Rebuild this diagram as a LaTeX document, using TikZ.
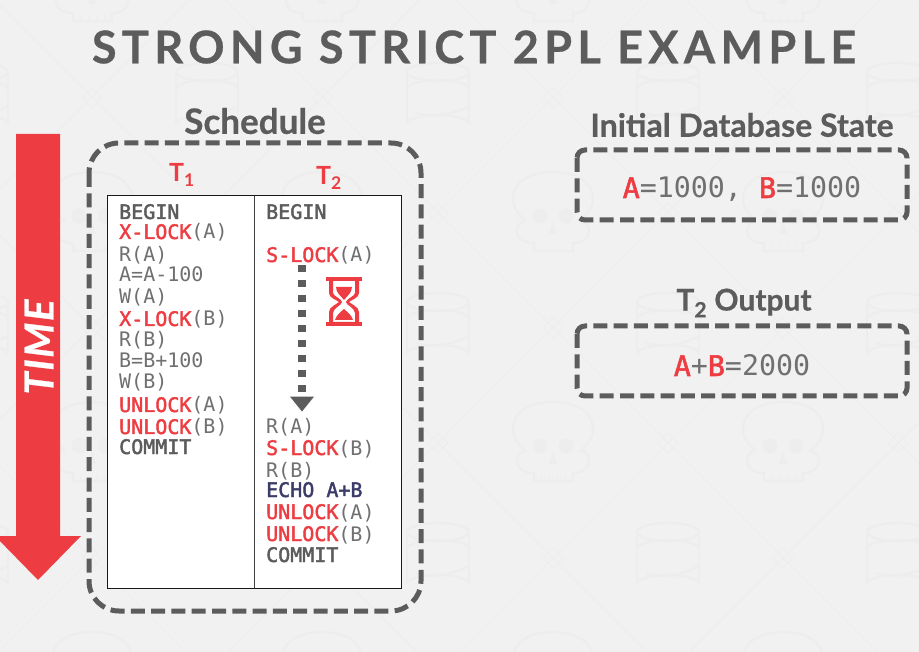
\documentclass[tikz,border=0pt]{standalone}
\usepackage{fontspec}
\setmainfont{Lato}
\setmonofont{DejaVu Sans Mono}
\usetikzlibrary{positioning, arrows.meta, calc}
\definecolor{cBack}{RGB}{241,241,241}
\definecolor{cMark}{RGB}{237,237,237}
\definecolor{cRed}{RGB}{238,61,66}
\definecolor{cGrey}{RGB}{92,92,92}
\definecolor{cThin}{RGB}{112,112,112}
\definecolor{cNavy}{RGB}{60,60,105}
\newcommand{\lk}[1]{{\addfontfeature{FakeBold=2}\color{cRed}#1}}
\newcommand{\kw}[1]{{\addfontfeature{FakeBold=2}\color{cGrey}#1}}
\tikzset{
    titletext/.style={font=\bfseries\fontsize{45}{50}\selectfont\addfontfeature{LetterSpace=11.9,FakeBold=0.6}, text=cGrey, inner sep=0pt},
    heading/.style={font=\bfseries\fontsize{32}{34}\selectfont\addfontfeature{FakeBold=0.6}, text=cGrey, inner sep=0pt},
    dashbox/.style={draw=cGrey, line width=5pt, dash pattern=on 14pt off 6.3pt},
    stmt/.style={font=\ttfamily\fontsize{20}{22}\selectfont, text=cThin, anchor=base west, inner sep=0pt},
    valuetext/.style={font=\ttfamily\fontsize{28.3}{30}\selectfont, text=cThin, anchor=base, inner sep=0pt},
    txnlabel/.style={font=\bfseries\fontsize{25}{30}\selectfont, text=cRed, anchor=base west, inner sep=0pt},
    waitflow/.style={draw=cGrey, line width=7.5pt, dash pattern=on 7.5pt off 7.5pt,
        -{Triangle[length=15pt, width=23pt]}},
    bgmark/.style={draw=cMark, line width=2.2pt},
    bgline/.style={draw=cMark, line width=1pt},
}
\begin{document}
\begin{tikzpicture}[x=1pt, y=-1pt]
\useasboundingbox (0,0) rectangle (919,652);
\fill[cBack] (0,0) rectangle (919,652);

% faint wallpaper: diagonals, small diamonds, databases, skulls
\begin{scope}
\clip (0,0) rectangle (919,652);
\foreach \i in {-5,...,4} {
    \draw[bgline] (-120+230.5*\i,-115) -- ++(1000,1000);
    \draw[bgline] (1226+230.5*\i,-115) -- ++(-1000,1000);
}
\foreach \cx in {-23,207,438,668,898} {
    \foreach \cy in {98,328,558} {
        \begin{scope}[shift={(\cx,\cy)}]
            \draw[bgmark] (-31,-26) -- (-31,26);
            \draw[bgmark] (31,-26) -- (31,26);
            \draw[bgmark] (0,-26) ellipse[x radius=31, y radius=9];
            \draw[bgmark] (-31,-9) arc[start angle=180, end angle=360, x radius=31, y radius=9];
            \draw[bgmark] (-31,26) arc[start angle=180, end angle=360, x radius=31, y radius=9];
            \draw[bgmark] (-22,15) .. controls (-10,19) and (10,19) .. (31,8);
        \end{scope}
        \draw[bgline] (\cx-115,\cy) ++(-10,0) -- ++(10,-10) -- ++(10,10) -- ++(-10,10) -- cycle;
        \draw[bgline] (\cx,\cy-115) ++(-10,0) -- ++(10,-10) -- ++(10,10) -- ++(-10,10) -- cycle;
    }
}
\foreach \cx in {92,322,553,783} {
    \foreach \cy in {-17,213,443,673} {
        \begin{scope}[shift={(\cx,\cy)}]
            \draw[bgmark] (-27,8) .. controls (-36,0) and (-40,-6) .. (-40,-14)
                .. controls (-40,-32) and (-22,-41) .. (0,-41)
                .. controls (22,-41) and (40,-32) .. (40,-14)
                .. controls (40,-6) and (36,0) .. (27,8)
                .. controls (34,8) and (36,14) .. (36,18) .. controls (36,26) and (28,30) .. (20,30)
                -- (20,38) -- (-19,38) -- (-19,30)
                .. controls (-28,30) and (-36,26) .. (-36,18) .. controls (-36,14) and (-34,8) .. (-27,8);
            \fill[cMark] (-13,3) circle[radius=7.5] (13,3) circle[radius=7.5] (0,8) -- (-4,21) -- (4,21) -- cycle;
            \draw[bgline] (-12,32) -- (-12,38) (-4,32) -- (-4,38) (4,32) -- (4,38) (12,32) -- (12,38);
        \end{scope}
    }
}
\end{scope}

% title
\node[titletext] (title) at (474,47) {STRONG STRICT 2PL EXAMPLE};

% time arrow
\begin{scope}
    \clip (0,0) rectangle (919,652);
    \fill[cRed] (16,134) -- (60,134) -- (60,536) -- (81,536) -- (38,580) -- (-5,536) -- (16,536) -- cycle;
\end{scope}
\node[font=\bfseries\itshape\fontsize{40}{42}\selectfont\addfontfeature{LetterSpace=4,FakeBold=0.8}, text=white,
      rotate=90, inner sep=0pt] (time) at (39,347) {TIME};

% schedule
\node[heading, font=\bfseries\fontsize{35}{36}\selectfont\addfontfeature{FakeBold=0.6}] (schedule) at (255,121) {Schedule};
\draw[dashbox, rounded corners=30pt] (89,143) rectangle (421,611);
\node[txnlabel] (t1) at (169,182) {T\textsubscript{1}};
\node[txnlabel] (t2) at (316,185) {T\textsubscript{2}};
\draw[black!90, line width=1pt, fill=white] (107,196) rectangle (401,588);
\draw[black!75, line width=1pt] (254,196) -- (254,588);

% T1 column
\foreach \y/\txt in {
    219/\kw{BEGIN}, 239/\lk{X-LOCK}(A), 262/R(A), 282/A=A-100, 304/W(A),
    326/\lk{X-LOCK}(B), 347/R(B), 368/B=B+100, 389/W(B),
    412/\lk{UNLOCK}(A), 434/\lk{UNLOCK}(B), 454/\kw{COMMIT}} {
    \node[stmt] at (119,\y) {\txt};
}

% T2 column
\node[stmt] (tbegin) at (266,219) {\kw{BEGIN}};
\node[stmt] (tlock) at (266,262) {\lk{S-LOCK}(A)};
\node[stmt] (tread) at (266,434) {R(A)};
\foreach \y/\txt in {
    455/\lk{S-LOCK}(B), 477/R(B), 497/{{\addfontfeature{FakeBold=2}\color{cNavy}ECHO A+B}},
    519/\lk{UNLOCK}(A), 541/\lk{UNLOCK}(B), 562/\kw{COMMIT}} {
    \node[stmt] at (266,\y) {\txt};
}

% waiting for the lock
\coordinate (waitx) at (302,0);
\draw[waitflow] (tlock.south -| waitx) -- ($(tread.north -| waitx)+(0,-7)$);

% hourglass
\fill[cRed] (326,277) rectangle (362,281);
\fill[cRed] (326,322) rectangle (362,326);
\fill[cRed, even odd rule] (329,281) -- (359,281) -- (359,293) .. controls (359,298) and (351,300) .. (349,302)
    .. controls (351,304) and (359,307) .. (359,312) -- (359,322) -- (329,322) -- (329,312)
    .. controls (329,307) and (337,304) .. (339,302) .. controls (337,300) and (329,298) .. (329,293) -- cycle
    (333,281) -- (355,281) -- (355,293) .. controls (355,296) and (346,299) .. (346,302)
    .. controls (346,305) and (355,308) .. (355,313) -- (355,322) -- (333,322) -- (333,313)
    .. controls (333,308) and (342,305) .. (342,302) .. controls (342,299) and (333,296) .. (333,293) -- cycle;
\fill[cRed] (336,287) -- (352,287) .. controls (352,293) and (347,296) .. (344,300) .. controls (341,296) and (336,293) .. (336,287) -- cycle;
\fill[cRed] (335,320) .. controls (337,314) and (341,312) .. (344,309) .. controls (347,312) and (351,314) .. (353,320) -- cycle;

% right column
\node[heading] (initial) at (742,125) {Initial Database State};
\draw[dashbox, rounded corners=8pt] (577,150) rectangle (907,220);
\node[valuetext] (stateval) at (742,198) {\lk{A}=1000, \lk{B}=1000};

\node[heading, font=\bfseries\fontsize{30}{32}\selectfont\addfontfeature{FakeBold=0.6}] (output) at (744,303) {T\textsubscript{2} Output};
\draw[dashbox, rounded corners=8pt] (577,326) rectangle (907,396);
\node[valuetext] (outval) at (742,376) {\lk{A}+\lk{B}=2000};
\end{tikzpicture}
\end{document}
